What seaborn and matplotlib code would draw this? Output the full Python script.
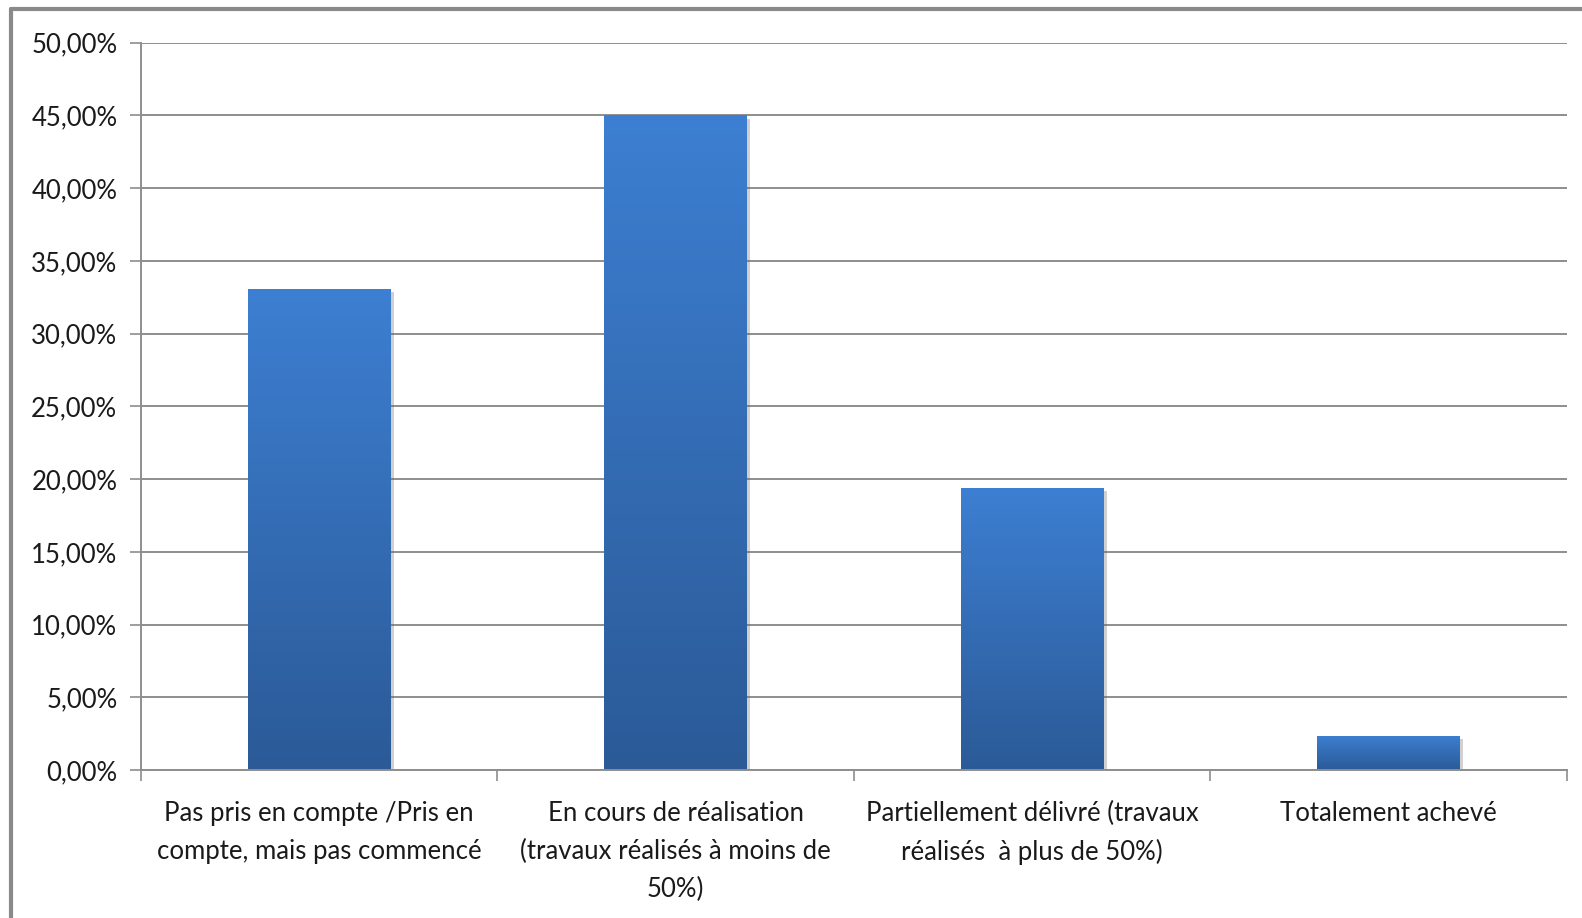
import numpy as np
import pandas as pd
import matplotlib
matplotlib.use('Agg')
import matplotlib.pyplot as plt
import matplotlib.patheffects as pe
from matplotlib.colors import LinearSegmentedColormap
from matplotlib.ticker import FixedLocator, FuncFormatter
import seaborn as sns

categories = [
    "Pas pris en compte /Pris en\ncompte, mais pas commencé",
    "En cours de réalisation\n(travaux réalisés à moins de\n50%)",
    "Partiellement délivré (travaux\nréalisés  à plus de 50%)",
    "Totalement achevé",
]
values = [33.1, 45.0, 19.4, 2.35]
y_ticks = [0, 5, 10, 15, 20, 25, 30, 35, 40, 45, 50]

sns.set_theme(style="white")
plt.rcParams['font.family'] = ['Lato', 'DejaVu Sans']

df = pd.DataFrame({"cat": categories, "val": values})

fig = plt.figure(figsize=(15.82, 9.18), dpi=100)
ax = fig.add_axes([0.0891, 0.1612, 0.9014, 0.7923])

sns.barplot(data=df, x="cat", y="val", ax=ax, width=0.4, color="#3a78c6",
            saturation=1, edgecolor="none")

# gradient fill + soft shadow like the excel chart
grad = LinearSegmentedColormap.from_list("g", ["#2b5a97", "#3d7fd2"])
for bar in ax.patches:
    bar.set_path_effects([pe.SimplePatchShadow(offset=(2.5, -2.5), shadow_rgbFace="#666666", alpha=0.3),
                          pe.Normal()])
    x0, y0 = bar.get_x(), bar.get_y()
    w, h = bar.get_width(), bar.get_height()
    im = ax.imshow(np.linspace(0, 1, 256).reshape(-1, 1), cmap=grad, origin="lower",
                   extent=[x0, x0 + w, y0, y0 + h], aspect="auto", zorder=bar.get_zorder() + 0.1)
    im.set_clip_path(bar)

ax.set_xlim(-0.5, len(categories) - 0.5)
ax.set_ylim(0, 50)
ax.set_yticks(y_ticks)
ax.yaxis.set_major_formatter(FuncFormatter(lambda v, p: f"{v:.2f}".replace(".", ",") + "%"))
ax.yaxis.grid(True, color="#8e8e8e", linewidth=1.4)
ax.set_axisbelow(True)

ax.set_xlabel("")
ax.set_ylabel("")
ax.xaxis.set_minor_locator(FixedLocator(np.arange(-0.5, len(categories), 1.0)))
ax.tick_params(axis="x", which="major", length=0, pad=22, labelsize=18.5, labelcolor="#1a1a1a")
ax.tick_params(axis="x", which="minor", length=8, width=1.2, color="#8e8e8e", direction="out", bottom=True)
ax.tick_params(axis="y", which="major", length=8, width=1.2, color="#8e8e8e", direction="out",
               left=True, pad=9, labelsize=18.5, labelcolor="#1a1a1a")
for lab in ax.get_xticklabels():
    lab.set_linespacing(1.65)

for s in ["top", "right"]:
    ax.spines[s].set_visible(False)
for s in ["left", "bottom"]:
    ax.spines[s].set_color("#8e8e8e")
    ax.spines[s].set_linewidth(1.4)

# outer chart frame (left and top edges visible)
fig.add_artist(plt.Line2D([11 / 1582, 11 / 1582], [0, 1 - 9 / 918], transform=fig.transFigure,
                          color="#8a8a8a", linewidth=3))
fig.add_artist(plt.Line2D([11 / 1582, 1], [1 - 9 / 918, 1 - 9 / 918], transform=fig.transFigure,
                          color="#8a8a8a", linewidth=3))

fig.savefig("out.png", dpi=100)
